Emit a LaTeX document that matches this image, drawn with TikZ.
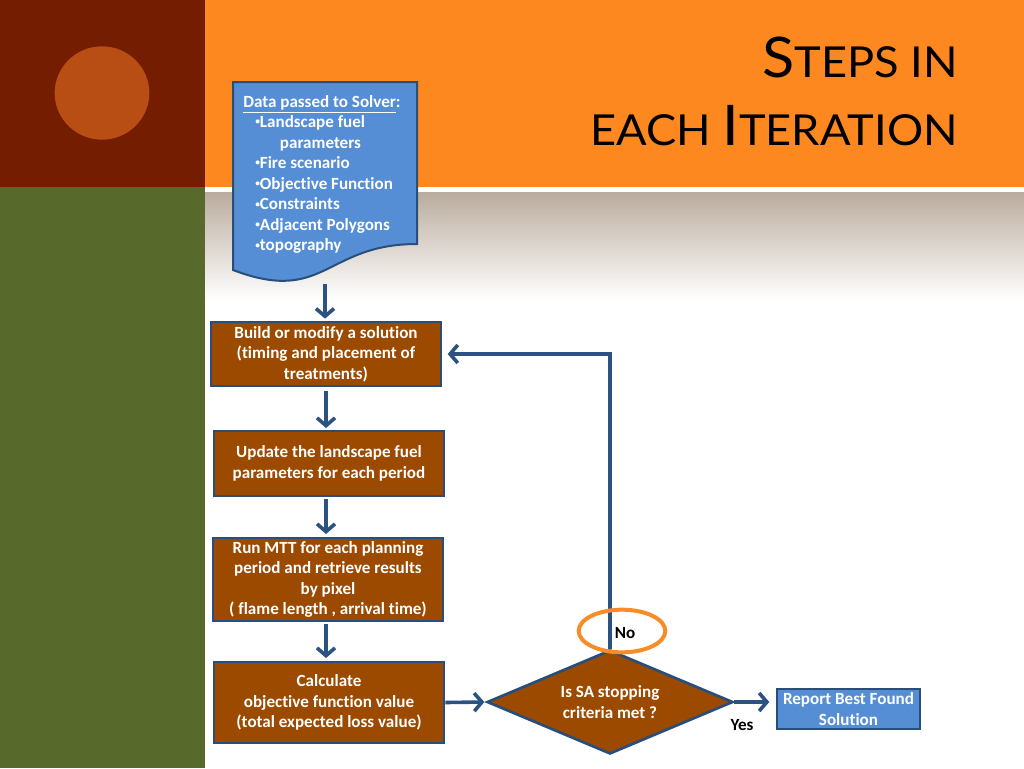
\documentclass[tikz,border=0pt]{standalone}
\usepackage{fontspec}
\setmainfont{Carlito}[Ligatures=NoCommon]
\newfontfamily\titlefont{Lato}
\usetikzlibrary{arrows.meta,shapes.geometric}
\definecolor{dkred}{RGB}{117,29,0}
\definecolor{leafgreen}{RGB}{88,105,44}
\definecolor{bandorange}{RGB}{254,136,32}
\definecolor{circorange}{RGB}{185,78,20}
\definecolor{bandgray}{RGB}{186,172,158}
\definecolor{brownc}{RGB}{155,74,0}
\definecolor{bordc}{RGB}{42,78,122}
\definecolor{arrowc}{RGB}{44,82,130}
\definecolor{bluefill}{RGB}{85,142,213}
\definecolor{ringorange}{RGB}{247,140,40}
\newcommand\smbul{\raisebox{0.35ex}{\scalebox{0.55}{•}}}
\newcommand\ulsolver[1]{\tikz[baseline=(u.base)]\node[inner sep=0pt](u){#1};\hspace{0pt}}
\begin{document}
\begin{tikzpicture}[x=0.75pt,y=-0.75pt,
  proc/.style={draw=bordc, line width=2pt, fill=brownc, text=white,
    font=\bfseries\fontsize{12.8}{15.4}\selectfont, align=center,
    inner xsep=0pt, inner ysep=0pt, minimum width=172.5pt},
  bluebox/.style={draw=bordc, line width=1.6pt, fill=bluefill, text=white,
    font=\bfseries\fontsize{12.8}{15.2}\selectfont, align=center,
    inner xsep=0pt, inner ysep=0pt},
  flow/.style={draw=arrowc, line width=2.7pt, line cap=butt,
    -{Straight Barb[length=5.8pt,width=13.5pt]}},
  lbl/.style={font=\bfseries\fontsize{12.8}{14}\selectfont, text=black, inner sep=0pt},
  ttl/.style={font=\titlefont, text=black, inner sep=0pt, anchor=base east}
]
\useasboundingbox (0,0) rectangle (1024,768);
% background
\fill[white] (0,0) rectangle (1024,768);
\fill[dkred] (0,0) rectangle (205,187);
\fill[leafgreen] (0,187) rectangle (205,768);
\fill[bandorange] (205,0) rectangle (1024,187);
\shade[top color=bandgray, bottom color=white] (205,192) rectangle (1024,300);
\fill[circorange] (102,93) ellipse [x radius=35.5pt, y radius=35pt];
% title
\node[ttl] (t1) at (958,77) {\scalebox{1.06}[1]{\fontsize{42}{42}\selectfont S\fontsize{32}{32}\selectfont TEPS IN}};
\node[ttl] (t2) at (958,145) {\scalebox{1.06}[1]{\fontsize{32}{32}\selectfont EACH \fontsize{42}{42}\selectfont I\fontsize{32}{32}\selectfont TERATION}};
% document shape
\filldraw[fill=bluefill, draw=bordc, line width=1.5pt]
  (233,82) -- (417,82) -- (417,244) .. controls (325,244) and (325,305) .. (233,270) -- cycle;
\node[anchor=north west, text=white, align=left, inner sep=0pt,
      font=\bfseries\fontsize{12.8}{15.4}\selectfont] (doc) at (243,95)
  {\underline{Data passed to Solver}:\\
   \hspace*{9pt}\smbul Landscape fuel\\
   \hspace*{27.5pt}parameters\\
   \hspace*{9pt}\smbul Fire scenario\\
   \hspace*{9pt}\smbul Objective Function\\
   \hspace*{9pt}\smbul Constraints\\
   \hspace*{9pt}\smbul Adjacent Polygons\\
   \hspace*{9pt}\smbul topography};
\coordinate (docb) at (325,284);
% process boxes
\node[proc, minimum height=48pt] (b1) at (326,354)
  {Build or modify a solution\\(timing and placement of\\treatments)};
\node[proc, minimum height=48.75pt] (b2) at (329,463.5)
  {Update the landscape fuel\\parameters for each period};
\node[proc, minimum height=62.25pt] (b3) at (328,579.5)
  {Run MTT for each planning\\period and retrieve results\\by pixel\\( flame length , arrival time)};
\node[proc, minimum height=60.75pt] (b4) at (329,702.5)
  {Calculate\\ objective function value\\(total expected loss value)};
\node[proc, shape=diamond, aspect=2.37, minimum width=184.5pt, minimum height=78pt] (dia) at (610,702)
  {Is SA stopping\\criteria met ?};
\node[bluebox, minimum width=107.25pt, minimum height=30pt] (rep) at (848.5,709)
  {Report Best Found\\Solution};
% connectors
\draw[flow, shorten >=1.5pt] (docb) -- (docb |- b1.north);
\draw[flow] ([yshift=-3pt]b1.south -| 326,0) -- (326,428);
\draw[flow] ([yshift=-1.5pt]b2.south -| 326,0) -- ([yshift=2pt]b3.north -| 326,0);
\draw[flow] ([yshift=-1.5pt]b3.south -| 326,0) -- ([yshift=2pt]b4.north -| 326,0);
\draw[flow] (b4.east) -- ([xshift=-1pt]dia.west);
\draw[flow] (dia.east) -- ([xshift=-5pt]dia.east -| rep.west);
\draw[flow, shorten >=4pt] (dia.north) |- (b1.east);
% labels
\node[draw=ringorange, line width=3pt, shape=ellipse, minimum width=65pt, minimum height=32pt, inner sep=0pt] (ring) at (622,631) {};
\node[lbl] (no) at (625,633) {No};
\node[lbl] (yes) at (742,725) {Yes};
\end{tikzpicture}
\end{document}
